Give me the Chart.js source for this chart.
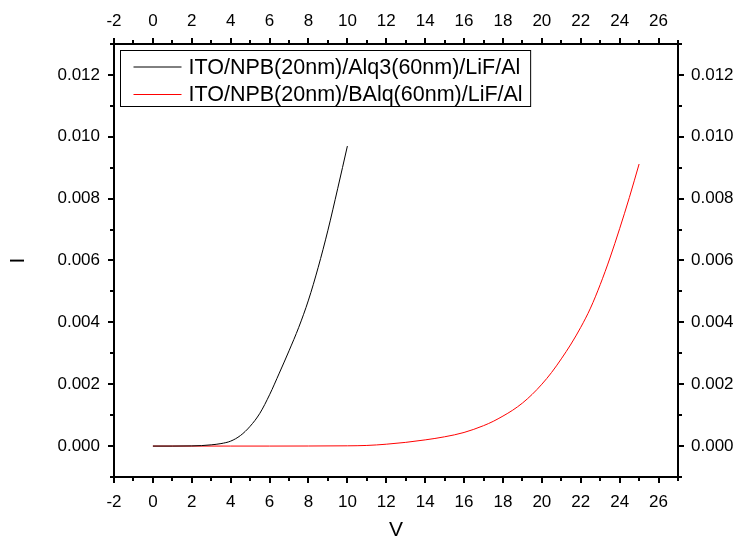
<!DOCTYPE html>
<html lang="en">
<head>
<meta charset="UTF-8">
<title>I-V curves</title>
<script src="https://cdn.jsdelivr.net/npm/chart.js@4"></script>
<style>
html, body { margin: 0; padding: 0; background: #fff; }
.chart-container { width: 739px; height: 543px; }
</style>
</head>
<body>
<div class="chart-container"><canvas id="ivChart"></canvas></div>
<script>
// series
const alqLabel = 'ITO/NPB(20nm)/Alq3(60nm)/LiF/Al';
const alqV = [0, 1, 2, 2.5, 3, 3.5, 4, 4.5, 5, 5.5, 6, 6.5, 7, 7.5, 8, 8.5, 9, 9.5, 10];
const alqI = [0, 0, 0.000005, 0.000015, 0.00004, 0.00008, 0.00016, 0.00034, 0.00064, 0.00106, 0.00166,
              0.00236, 0.00308, 0.00384, 0.00472, 0.00578, 0.00698, 0.00832, 0.0097];

const balqLabel = 'ITO/NPB(20nm)/BAlq(60nm)/LiF/Al';
const balqV = [0, 2, 4, 6, 8, 10, 11, 12, 13, 14, 15, 16, 17, 17.5, 18, 18.5, 19, 19.5, 20, 20.5, 21,
               21.5, 22, 22.5, 23, 23.5, 24, 24.5, 25];
const balqI = [0, 0, 0, 0, 0.000002, 0.000008, 0.00002, 0.00006, 0.00012, 0.0002, 0.0003, 0.00044,
               0.00066, 0.0008, 0.00097, 0.00116, 0.00139, 0.00167, 0.002, 0.00238, 0.00282,
               0.0033, 0.00384, 0.00446, 0.00522, 0.00608, 0.00703, 0.00804, 0.00912];

// axes
const xMin = -2, xMax = 27;
const yMin = -0.001, yMax = 0.013;
const xTicks = [-2, 0, 2, 4, 6, 8, 10, 12, 14, 16, 18, 20, 22, 24, 26];
const xMinor = [-1, 1, 3, 5, 7, 9, 11, 13, 15, 17, 19, 21, 23, 25, 27];
const yTicks = [0, 0.002, 0.004, 0.006, 0.008, 0.010, 0.012];
const yMinor = [-0.001, 0.001, 0.003, 0.005, 0.007, 0.009, 0.011, 0.013];

const toPoints = (xs, ys) => xs.map((x, i) => ({ x: x, y: ys[i] }));

const tickFont = { family: 'Liberation Sans, Arial, sans-serif', size: 17 };
const titleFont = { family: 'Liberation Sans, Arial, sans-serif', size: 21 };

function axis(position, min, max, tickList, fmt, size, pad, extra) {
  return Object.assign({
    type: 'linear',
    position: position,
    min: min,
    max: max,
    border: { display: true, color: '#000', width: 2 },
    grid: { drawOnChartArea: false, drawTicks: true, tickLength: 6, color: '#000', lineWidth: 2 },
    ticks: { color: '#000', font: tickFont, padding: pad, maxRotation: 0, autoSkip: false,
             callback: v => fmt(v) },
    afterBuildTicks: s => { s.ticks = tickList.map(v => ({ value: v })); },
    afterFit: s => {
      if (position === 'left' || position === 'right') s.width = size; else s.height = size;
    }
  }, extra || {});
}

const fmtX = v => String(v);
const fmtY = v => v.toFixed(3);

// short ticks between the labelled ones, plus the boxed legend
const extras = {
  id: 'extras',
  afterDraw(chart) {
    const ctx = chart.ctx, a = chart.chartArea;
    const sx = chart.scales.x, sy = chart.scales.y;
    ctx.save();
    ctx.strokeStyle = '#000';
    ctx.lineWidth = 2;
    ctx.beginPath();
    xMinor.forEach(v => {
      const px = Math.round(sx.getPixelForValue(v));
      ctx.moveTo(px, a.bottom); ctx.lineTo(px, a.bottom + 4);
      ctx.moveTo(px, a.top); ctx.lineTo(px, a.top - 4);
    });
    yMinor.forEach(v => {
      const py = Math.round(sy.getPixelForValue(v));
      ctx.moveTo(a.left, py); ctx.lineTo(a.left - 4, py);
      ctx.moveTo(a.right, py); ctx.lineTo(a.right + 4, py);
    });
    ctx.stroke();

    // legend
    ctx.font = '21.5px "Liberation Sans", Arial, sans-serif';
    ctx.textBaseline = 'middle';
    const sets = chart.data.datasets;
    const textW = Math.max(...sets.map(d => ctx.measureText(d.label).width));
    const bx = a.left + 6.5, by = a.top + 6.5;
    const bw = 68 + textW + 8, bh = 56;
    ctx.lineWidth = 1;
    ctx.strokeStyle = '#000';
    ctx.fillStyle = '#fff';
    ctx.fillRect(bx, by, bw, bh);
    ctx.strokeRect(bx, by, bw, bh);
    sets.forEach((d, i) => {
      const ly = by + 16.5 + i * 27.5;
      ctx.strokeStyle = d.borderColor;
      ctx.beginPath();
      ctx.moveTo(bx + 13, ly);
      ctx.lineTo(bx + 61, ly);
      ctx.stroke();
      ctx.fillStyle = '#000';
      ctx.fillText(d.label, bx + 68, ly + 1);
    });
    ctx.restore();
  }
};

new Chart(document.getElementById('ivChart'), {
  type: 'line',
  data: {
    datasets: [
      { label: alqLabel, data: toPoints(alqV, alqI), borderColor: '#000000', borderWidth: 1,
        pointRadius: 0, cubicInterpolationMode: 'monotone', fill: false, xAxisID: 'x', yAxisID: 'y' },
      { label: balqLabel, data: toPoints(balqV, balqI), borderColor: '#ff0000', borderWidth: 1,
        pointRadius: 0, cubicInterpolationMode: 'monotone', fill: false, xAxisID: 'x', yAxisID: 'y' }
    ]
  },
  options: {
    responsive: true,
    maintainAspectRatio: false,
    animation: false,
    layout: { padding: 0 },
    plugins: { legend: { display: false }, tooltip: { enabled: false } },
    scales: {
      x: axis('bottom', xMin, xMax, xTicks, fmtX, 66, 9,
        { title: { display: true, text: 'V', color: '#000', font: titleFont, padding: 0 } }),
      x2: axis('top', xMin, xMax, xTicks, fmtX, 44, 6),
      y: axis('left', yMin, yMax, yTicks, fmtY, 114, 8,
        { title: { display: true, text: 'I', color: '#000', font: titleFont, padding: 6 } }),
      y2: axis('right', yMin, yMax, yTicks, fmtY, 61, 7)
    }
  },
  plugins: [extras]
});
</script>
</body>
</html>
